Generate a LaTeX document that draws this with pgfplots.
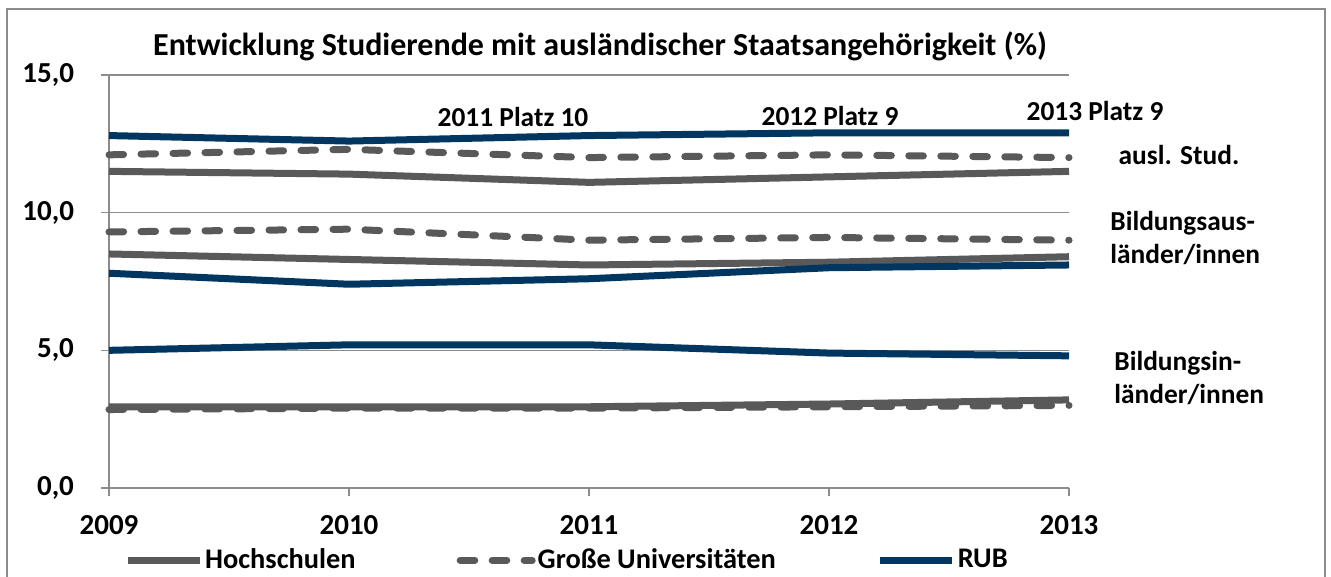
\documentclass[border=0pt]{standalone}
\usepackage{pgfplots}
\pgfplotsset{compat=1.18}
\usepackage{fontspec}
\setmainfont{Carlito}
\definecolor{hgray}{HTML}{595959}
\definecolor{rub}{HTML}{003660}
\definecolor{gridc}{HTML}{8C8C8C}
\begin{document}
\begin{tikzpicture}[font=\bfseries]
\useasboundingbox (0,0) rectangle (665.5pt,288.5pt);
\draw[gridc, line width=0.75pt] (3.5pt,0) -- (3.5pt,284pt) -- (662.5pt,284pt) -- (662.5pt,0);
\begin{axis}[at={(54.5pt,44.5pt)}, anchor=south west, scale only axis,
  width=480pt, height=206.5pt,
  xmin=2009, xmax=2013, ymin=0, ymax=15,
  xtick={2009,2010,2011,2012,2013}, ytick={0,5,10,15},
  x tick label style={yshift=-6pt, /pgf/number format/1000 sep={}},
  y tick label style={xshift=-10pt, /pgf/number format/.cd, fixed, fixed zerofill, precision=1, use comma},
  /pgf/number format/assume math mode=true,
  ymajorgrids, grid style={gridc, line width=0.75pt},
  axis x line*=bottom, axis y line*=left,
  axis line style={gridc, line width=0.75pt, -},
  tick style={gridc, line width=0.75pt},
  tick align=outside, major tick length=4pt,
  ticklabel style={font=\fontsize{14.5}{17}\selectfont\bfseries, text=black},
  clip=false,
  legend image code/.code={\draw[#1] (0pt,0pt) -- (36pt,0pt);},
  legend style={at={(0.477,-0.175)}, anchor=center, draw=none, fill=none,
    legend columns=3, font=\fontsize{14.2}{16}\selectfont\bfseries,
    nodes={inner xsep=1pt},
    /tikz/every even column/.append style={column sep=49.5pt},
    legend cell align=left},
  hs/.style={hgray, line width=3.5pt, line join=round},
  gu/.style={hgray, line width=3.5pt, line join=round, line cap=round, dash pattern=on 7.3pt off 8.7pt},
  rb/.style={rub, line width=3.5pt, line join=round},
]
% Hochschulen
\addplot[hs] coordinates {(2009,11.5) (2010,11.4) (2011,11.1) (2012,11.3) (2013,11.5)};
\addlegendentry{Hochschulen}
\addplot[hs, forget plot] coordinates {(2009,8.5) (2010,8.3) (2011,8.1) (2012,8.2) (2013,8.4)};
\addplot[hs, forget plot] coordinates {(2009,2.95) (2010,2.95) (2011,2.95) (2012,3.05) (2013,3.2)};
% Grosse Universitaeten
\addplot[gu] coordinates {(2009,12.1) (2010,12.3) (2011,12.0) (2012,12.1) (2013,12.0)};
\addlegendentry{Große Universitäten}
\addplot[gu, forget plot] coordinates {(2009,9.3) (2010,9.4) (2011,9.0) (2012,9.1) (2013,9.0)};
\addplot[gu, forget plot] coordinates {(2009,2.85) (2010,2.9) (2011,2.9) (2012,2.95) (2013,3.0)};
% RUB
\addplot[rb] coordinates {(2009,12.8) (2010,12.6) (2011,12.8) (2012,12.9) (2013,12.9)};
\addlegendentry{RUB}
\addplot[rb, forget plot] coordinates {(2009,7.8) (2010,7.4) (2011,7.6) (2012,8.0) (2013,8.1)};
\addplot[rb, forget plot] coordinates {(2009,5.0) (2010,5.2) (2011,5.2) (2012,4.9) (2013,4.8)};
\end{axis}
\node[font=\fontsize{16}{18}\selectfont\bfseries] at (300pt,265.5pt) {Entwicklung Studierende mit ausländischer Staatsangehörigkeit (\%)};
\begin{scope}[every node/.style={font=\fontsize{13.7}{16.5}\selectfont\bfseries}]
\node at (256.5pt,230pt) {2011 Platz 10};
\node at (415pt,230.5pt) {2012 Platz 9};
\node at (547.5pt,233pt) {2013 Platz 9};
\node at (589.5pt,211pt) {ausl. Stud.};
\node[anchor=west, align=left, inner sep=0pt] at (555pt,169.25pt) {Bildungsaus-\\länder/innen};
\node[anchor=west, align=left, inner sep=0pt] at (557pt,99.25pt) {Bildungsin-\\länder/innen};
\end{scope}
\end{tikzpicture}
\end{document}
